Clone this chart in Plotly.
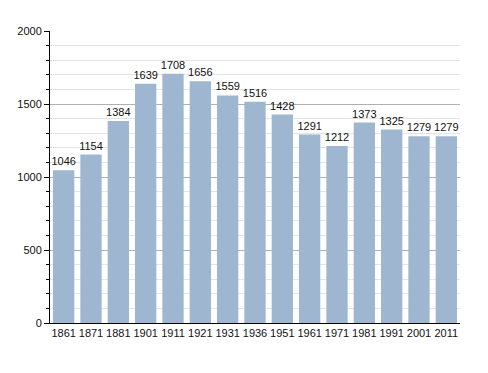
import plotly.graph_objects as go

years = ["1861", "1871", "1881", "1901", "1911", "1921", "1931", "1936", "1951", "1961", "1971", "1981", "1991", "2001", "2011"]
population = [1046, 1154, 1384, 1639, 1708, 1656, 1559, 1516, 1428, 1291, 1212, 1373, 1325, 1279, 1279]
y_ticks = [0, 500, 1000, 1500, 2000]

fig = go.Figure()
fig.add_trace(go.Bar(
    x=years, y=population,
    marker=dict(color="#9fb6d1", line=dict(width=0)),
    text=[str(v) for v in population], textposition="outside",
    constraintext="none",
    textfont=dict(family="Liberation Sans, Arial", size=11, color="#111"),
    cliponaxis=False,
))
fig.update_layout(
    width=488, height=373,
    margin=dict(l=42, r=36, t=23, b=58),
    paper_bgcolor="white", plot_bgcolor="white",
    bargap=0.22,
    showlegend=False,
    font=dict(family="Liberation Sans, Arial", size=11, color="#111"),
    xaxis=dict(
        type="category", showline=True, linecolor="black", linewidth=1,
        ticks="", tickfont=dict(size=11), showgrid=False, automargin=False,
    ),
    yaxis=dict(
        range=[0, 2000], tickvals=y_ticks, showline=True, linecolor="black", linewidth=1,
        ticks="outside", ticklen=5, tickcolor="black", tickfont=dict(size=11),
        showgrid=True, gridcolor="#b0b0b0", gridwidth=1, zeroline=False, automargin=False,
        minor=dict(dtick=100, showgrid=True, gridcolor="#e4e4e4", ticks="outside", ticklen=3, tickcolor="black"),
    ),
)
fig.write_html("out.html")
